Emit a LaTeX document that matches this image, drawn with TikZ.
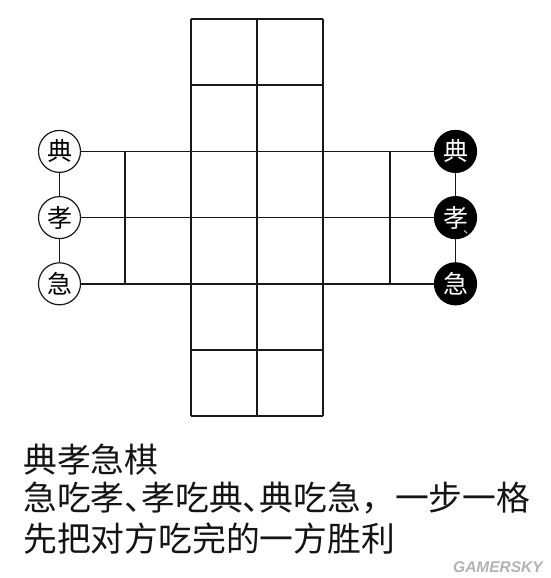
\documentclass[tikz,border=0pt]{standalone}
\usepackage{fontspec}
\newfontfamily\cjk{Noto Sans CJK SC}
\newfontfamily\wmfont{Liberation Sans}
\tikzset{
  gridline/.style={line width=1.5pt, draw=black!90},
  piecew/.style={circle, draw=black!90, line width=1.2pt, fill=white, minimum size=42pt, inner sep=0pt, font=\cjk\fontsize{25}{25}\selectfont},
  pieceb/.style={circle, draw=black, line width=1.2pt, fill=black, text=white, minimum size=42pt, inner sep=0pt, font=\cjk\fontsize{25}{25}\selectfont},
  caption/.style={anchor=base west, inner sep=0pt, font=\cjk\fontsize{33.8}{40}\selectfont, text=black!92},
}
\begin{document}
\begin{tikzpicture}[x=1pt,y=-1pt]
\useasboundingbox (0,0) rectangle (550,578);
% central column grid
\foreach \x in {191,257,323} \draw[gridline] (\x,19) -- (\x,416.2);
\foreach \y in {19,85.2,151.4,217.6,283.8,350,416.2} \draw[gridline] (191,\y) -- (323,\y);
% side verticals
\draw[gridline] (125,151.4) -- (125,283.8);
\draw[gridline] (390,151.4) -- (390,283.8);
% pieces
\node[piecew] (L1) at (59.5,151.4) {典};
\node[piecew] (L2) at (59.5,217.6) {孝};
\node[piecew] (L3) at (59.5,283.8) {急};
\node[pieceb] (R1) at (455.5,151.4) {典};
\node[pieceb] (R2) at (455.5,217.6) {孝};
\node[pieceb] (R3) at (455.5,283.8) {急};
\node[inner sep=0pt, text=white!85!black, font=\cjk\fontsize{13}{13}\selectfont] (R2m) at (469.5,232) {、};
% connectors
\draw[gridline] (L1) -- (R1);
\draw[gridline] (L2) -- (R2);
\draw[gridline] (L3) -- (R3);
\draw[gridline, line width=1.3pt] (L1) -- (L2);
\draw[gridline, line width=1.3pt] (L2) -- (L3);
\draw[gridline, line width=1.3pt] (R1) -- (R2);
\draw[gridline, line width=1.3pt] (R2) -- (R3);
% captions
\node[caption] (t1) at (23,472) {典孝急棋};
\node[caption] (t2) at (23,510.5) {急吃孝、\kern-0.5em 孝吃典、\kern-0.5em 典吃急，一步一格};
\node[caption] (t3) at (23,551) {先把对方吃完的一方胜利};
\node[anchor=base west, inner sep=0pt, text=black!30, font=\wmfont\bfseries\itshape\fontsize{15.5}{16}\selectfont] (wm) at (453,572) {GAMERSKY};
\end{tikzpicture}
\end{document}
